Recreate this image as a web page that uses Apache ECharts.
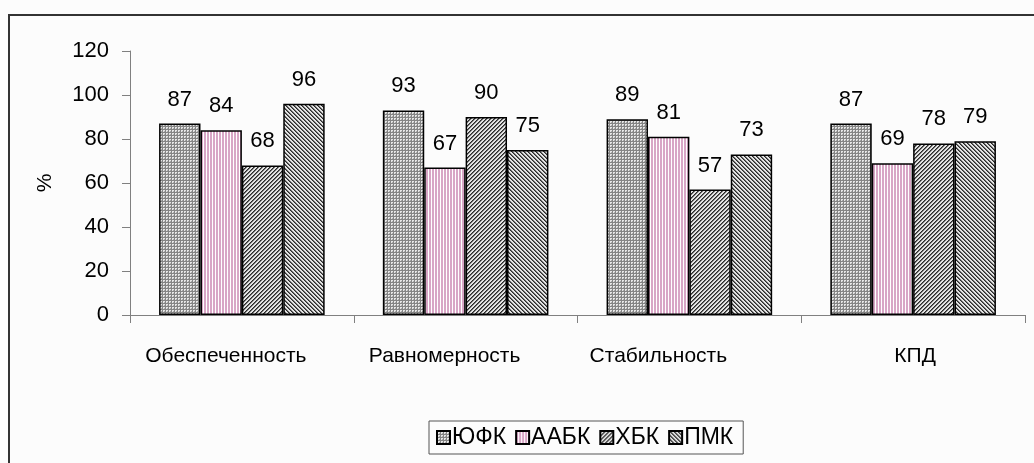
<!DOCTYPE html>
<html>
<head>
<meta charset="utf-8">
<script src="https://cdn.jsdelivr.net/npm/echarts@6/dist/echarts.min.js"></script>
<style>
  html, body { margin: 0; padding: 0; background: #fcfcfc; }
  #chart { width: 1034px; height: 463px; }
</style>
</head>
<body>
<div id="chart"></div>
<script>
// Indicators on the category axis
const categories = ['Обеспеченность', 'Равномерность', 'Стабильность', 'КПД'];
// Series names
const seriesNames = ['ЮФК', 'ААБК', 'ХБК', 'ПМК'];
// Values, % (one array per series, ordered as categories)
const valuesYFK  = [87, 93, 89, 87];
const valuesAABK = [84, 67, 81, 69];
const valuesHBK  = [68, 90, 57, 78];
const valuesPMK  = [96, 75, 73, 79];
// Value axis ticks
const yMin = 0, yMax = 120, yStep = 20;

// Small repeating fill tiles for the hatched bars
function tile(size, paint) {
  const c = document.createElement('canvas');
  c.width = size; c.height = size;
  const g = c.getContext('2d');
  paint(g, size);
  return { image: c, repeat: 'repeat' };
}
function px(g, x, y, col) { g.fillStyle = col; g.fillRect(x, y, 1, 1); }

// grey mesh
const fillGrid = tile(3, (g) => {
  g.fillStyle = '#e6e6e6'; g.fillRect(0, 0, 3, 3);
  g.fillStyle = '#848484'; g.fillRect(0, 0, 3, 1); g.fillRect(0, 0, 1, 3);
  px(g, 2, 2, '#a8a8a8');
});
// pink vertical stripes
const fillPink = tile(3, (g) => {
  g.fillStyle = '#ffffff'; g.fillRect(0, 0, 3, 3);
  g.fillStyle = '#d8a6c6'; g.fillRect(0, 0, 2, 3);
});
// "/" diagonal hatch
const fillDiagUp = tile(4, (g) => {
  g.fillStyle = '#e4e4e4'; g.fillRect(0, 0, 4, 4);
  for (let y = 0; y < 4; y++) for (let x = 0; x < 4; x++) {
    const k = (x + y) % 4;
    if (k === 0) px(g, x, y, '#2a2a2a');
    else if (k === 1) px(g, x, y, '#6e6e6e');
  }
});
// "\" diagonal hatch
const fillDiagDown = tile(4, (g) => {
  g.fillStyle = '#e4e4e4'; g.fillRect(0, 0, 4, 4);
  for (let y = 0; y < 4; y++) for (let x = 0; x < 4; x++) {
    const k = ((x - y) % 4 + 4) % 4;
    if (k === 0) px(g, x, y, '#2a2a2a');
    else if (k === 1) px(g, x, y, '#6e6e6e');
  }
});

const fills = [fillGrid, fillPink, fillDiagUp, fillDiagDown];
const allValues = [valuesYFK, valuesAABK, valuesHBK, valuesPMK];
const FONT = 'Arial, "Liberation Sans", sans-serif';

// category captions sit slightly left of their band centres
const captionShift = [16, 21, 31, -2];
const categoryData = categories.map((c, i) => ({
  value: c,
  textStyle: {
    padding: captionShift[i] >= 0 ? [0, 2 * captionShift[i], 0, 0] : [0, 0, 0, -2 * captionShift[i]]
  }
}));

const chart = echarts.init(document.getElementById('chart'), null, { renderer: 'canvas' });

chart.setOption({
  backgroundColor: '#fcfcfc',
  animation: false,
  textStyle: { fontFamily: FONT, color: '#000' },
  grid: { left: 130, right: 9, top: 51, bottom: 148, containLabel: false },
  graphic: [{
    type: 'polyline',
    shape: { points: [[9, 463], [9, 15], [1034, 15]] },
    style: { stroke: '#333', lineWidth: 2, fill: null }
  }],
  legend: {
    data: seriesNames,
    left: 429, top: 421,
    orient: 'horizontal',
    itemWidth: 13, itemHeight: 13, itemGap: 9,
    padding: [5, 10, 5, 7],
    borderColor: '#555', borderWidth: 1,
    textStyle: { fontFamily: FONT, fontSize: 23, color: '#000', padding: [0, 0, 0, -3] },
    icon: 'rect'
  },
  xAxis: {
    type: 'category',
    data: categoryData,
    axisLine: { lineStyle: { color: '#808080', width: 1 } },
    axisTick: { show: true, length: 8, lineStyle: { color: '#808080' } },
    axisLabel: { fontFamily: FONT, fontSize: 21, color: '#000', margin: 31 }
  },
  yAxis: {
    type: 'value',
    min: yMin, max: yMax, interval: yStep,
    name: '%', nameLocation: 'middle', nameGap: 74, nameRotate: 90,
    nameTextStyle: { fontFamily: FONT, fontSize: 21, color: '#000' },
    axisLine: { show: true, lineStyle: { color: '#808080', width: 1 } },
    axisTick: { show: true, length: 8, lineStyle: { color: '#808080' } },
    axisLabel: { fontFamily: FONT, fontSize: 22, color: '#000', margin: 21 },
    splitLine: { show: false }
  },
  series: seriesNames.map((name, i) => ({
    name: name,
    type: 'bar',
    data: allValues[i],
    barGap: '0%',
    barCategoryGap: '26%',
    itemStyle: { color: fills[i], borderColor: '#000', borderWidth: 1.5 },
    label: {
      show: true, position: 'top', distance: 13,
      fontFamily: FONT, fontSize: 22, color: '#000'
    }
  }))
});
</script>
</body>
</html>
